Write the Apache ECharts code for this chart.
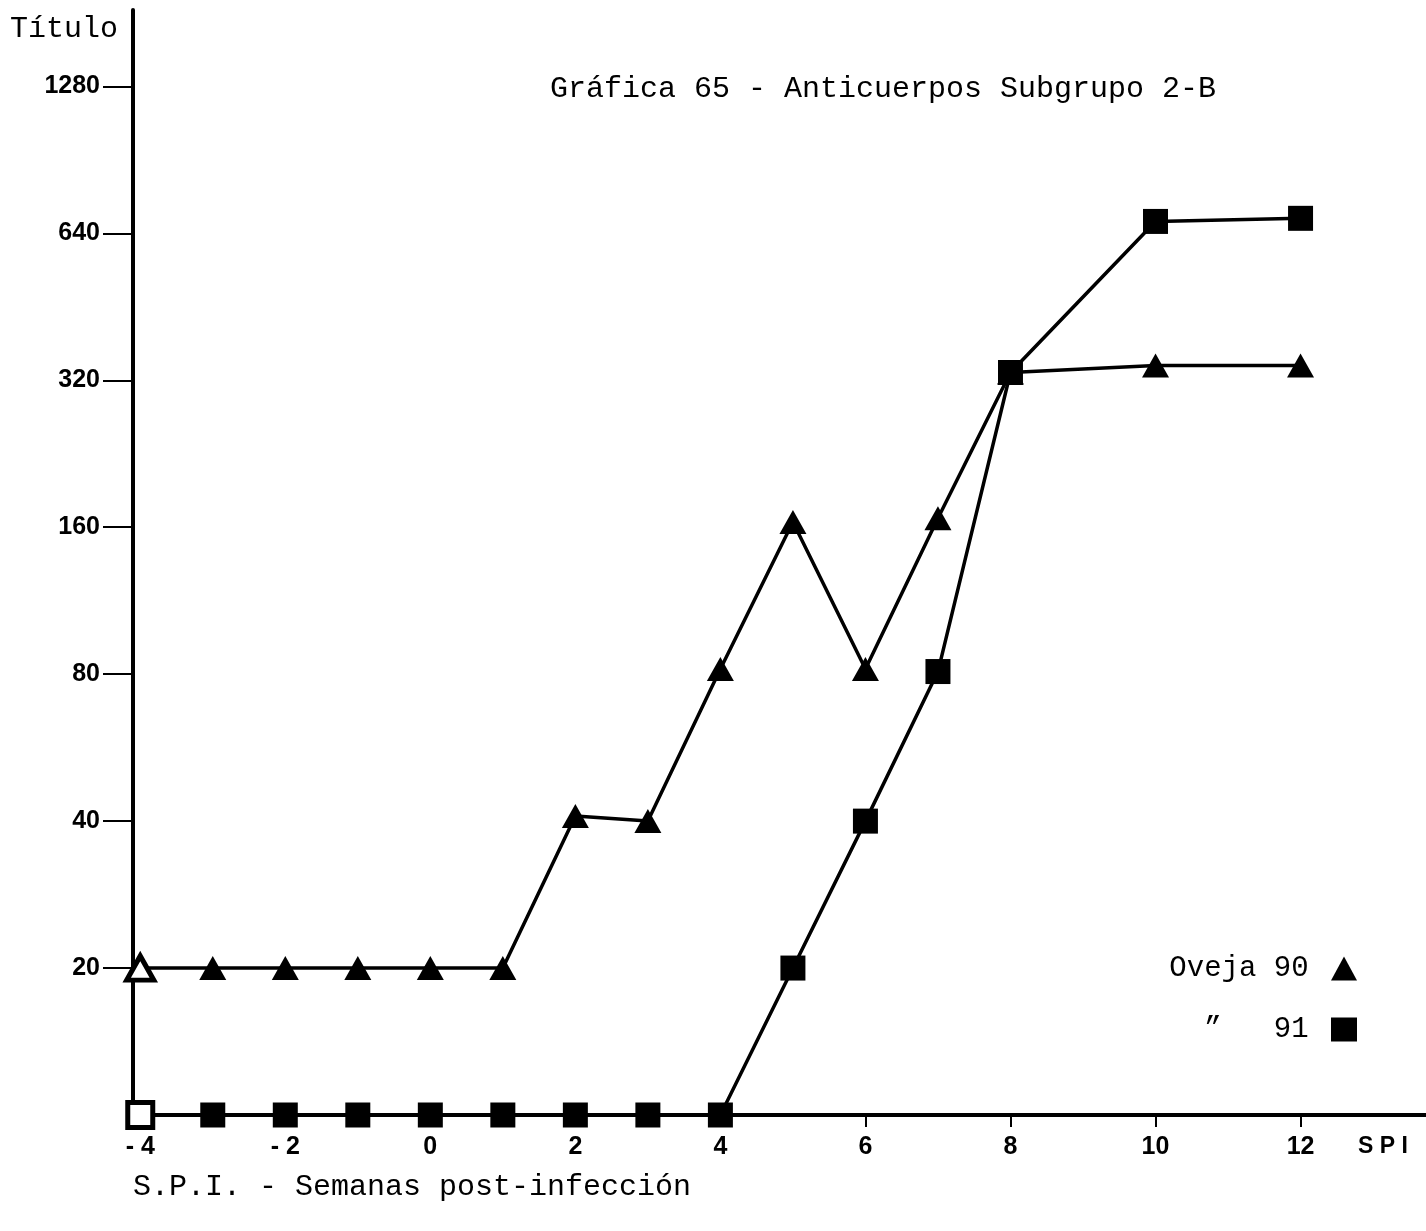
<!DOCTYPE html>
<html>
<head>
<meta charset="utf-8">
<script src="https://cdn.jsdelivr.net/npm/echarts@6/dist/echarts.min.js"></script>
<style>
html,body{margin:0;padding:0;background:#fff;}
#chart{width:1426px;height:1231px;}
</style>
</head>
<body>
<div id="chart"></div>
<script>
// Weeks post-infection (S.P.I.)
const weeks = [-4, -3, -2, -1, 0, 1, 2, 3, 4, 5, 6, 7, 8, 10, 12];
// Antibody titres; 10 = below the lowest dilution (drawn on the baseline)
const oveja90 = [20, 20, 20, 20, 20, 20, 41, 40, 82, 164, 82, 167, 332, 343, 343];
const oveja91 = [10, 10, 10, 10, 10, 10, 10, 10, 10, 20, 40, 81, 332, 677, 687];
// Y tick titres (doubling dilutions) and x tick weeks
const yTicks = [20, 40, 80, 160, 320, 640, 1280];
const xTicks = [-4, -2, 0, 2, 4, 6, 8, 10, 12];

const BASE = 10;
const toLog = v => Math.log2(v / BASE);

function buildData(titres) {
  return weeks.map((w, i) => {
    const item = { value: [w, toLog(titres[i])] };
    if (i === 0) {
      item.itemStyle = { color: '#fff', borderColor: '#000', borderWidth: 5 };
    }
    return item;
  });
}

const chart = echarts.init(document.getElementById('chart'), null, { renderer: 'canvas' });

const mono = "'Liberation Mono', 'DejaVu Sans Mono', monospace";
const sans = "'Liberation Sans', Arial, sans-serif";

const option = {
  animation: false,
  backgroundColor: '#fff',
  title: {
    text: 'Gráfica 65 - Anticuerpos Subgrupo 2-B',
    left: 545,
    top: 69,
    textStyle: { fontFamily: mono, fontSize: 30, fontWeight: 'normal', color: '#000' }
  },
  grid: { left: 133, right: 0, top: 10, bottom: 116, containLabel: false },
  xAxis: {
    type: 'value',
    min: -4.1,
    max: 13.73,
    axisLine: { show: true, onZero: false, lineStyle: { color: '#000', width: 4 } },
    axisTick: { show: true, customValues: xTicks, length: 12, lineStyle: { color: '#000', width: 2 } },
    axisLabel: {
      customValues: xTicks,
      margin: 20,
      formatter: v => (v < 0 ? '- ' + Math.abs(v) : String(v)),
      fontFamily: sans, fontSize: 25, fontWeight: 'bold', color: '#000'
    },
    splitLine: { show: false }
  },
  yAxis: {
    type: 'value',
    min: 0,
    max: 7.52,
    axisLine: { show: true, onZero: false, lineStyle: { color: '#000', width: 4 } },
    axisTick: { show: true, customValues: yTicks.map(toLog), length: 30, lineStyle: { color: '#000', width: 2 } },
    axisLabel: {
      customValues: yTicks.map(toLog),
      margin: 33,
      formatter: v => String(Math.round(BASE * Math.pow(2, v))),
      fontFamily: sans, fontSize: 25, fontWeight: 'bold', color: '#000', letterSpacing: 2
    },
    splitLine: { show: false }
  },
  legend: {
    orient: 'vertical',
    right: 64,
    top: 949,
    align: 'right',
    itemGap: 32,
    itemWidth: 26,
    itemHeight: 24,
    textStyle: { fontFamily: mono, fontSize: 29, color: '#000' },
    data: [
      { name: 'Oveja 90 ', icon: 'triangle' },
      { name: '  \u201D   91 ', icon: 'rect' }
    ]
  },
  graphic: [
    { type: 'text', left: 10, top: 14,
      style: { text: 'Título', font: "30px 'Liberation Mono', monospace", fill: '#000' } },
    { type: 'text', left: 1358, top: 1135,
      style: { text: 'S P I', font: "bold 23px 'Liberation Sans', sans-serif", fill: '#000' } },
    { type: 'text', left: 133, top: 1172,
      style: { text: 'S.P.I. - Semanas post-infección', font: "30px 'Liberation Mono', monospace", fill: '#000' } }
  ],
  series: [
    {
      name: 'Oveja 90 ',
      type: 'line',
      data: buildData(oveja90),
      symbol: 'triangle',
      symbolSize: [27, 24],
      showAllSymbol: true,
      lineStyle: { color: '#000', width: 3.5 },
      itemStyle: { color: '#000' },
      z: 3
    },
    {
      name: '  \u201D   91 ',
      type: 'line',
      data: buildData(oveja91),
      symbol: 'rect',
      symbolSize: [25, 25],
      showAllSymbol: true,
      lineStyle: { color: '#000', width: 3.5 },
      itemStyle: { color: '#000' },
      z: 4
    }
  ]
};

chart.setOption(option);
</script>
</body>
</html>
